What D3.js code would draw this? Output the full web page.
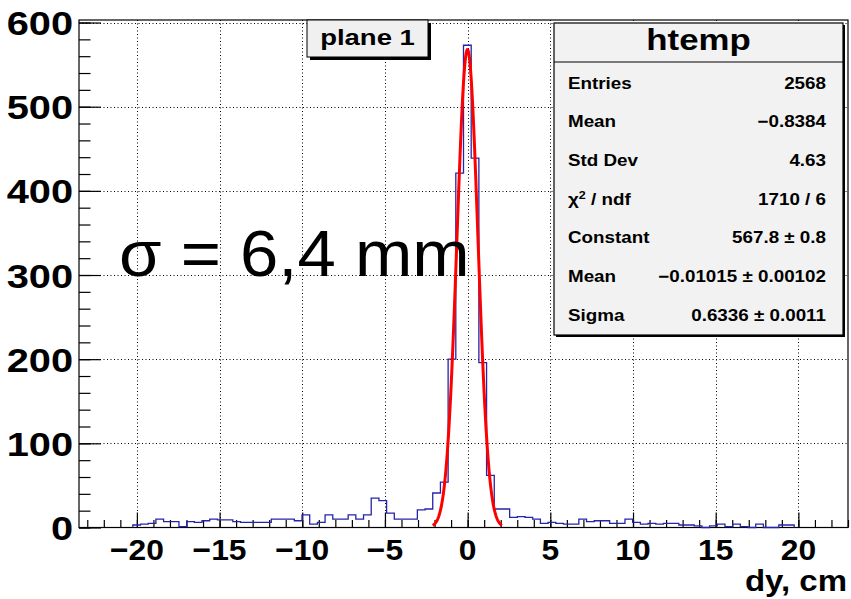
<!DOCTYPE html>
<html>
<head>
<meta charset="utf-8">
<script src="https://cdn.jsdelivr.net/npm/d3@7"></script>
<style>
  html, body { margin: 0; padding: 0; background: #fff; }
  svg { display: block; }
  text { font-family: "Liberation Sans", Arial, Helvetica, sans-serif; }
</style>
</head>
<body>
<svg id="chart" width="851" height="599"></svg>
<script>
// dy histogram, 100 bins from -23.5 to 23.0
const binLow = -23.5;
const binHigh = 23.0;
const binCounts = [
  0, 0, 0, 0, 0, 0, 0, 3, 4, 5,
  10, 7, 7, 1, 7, 6, 8, 10, 9, 9,
  7, 6, 6, 6, 6, 10, 10, 10, 8, 15,
  4, 6, 15, 10, 10, 15, 10, 15, 35, 32,
  17, 10, 10, 10, 21, 22, 41, 54, 200, 421,
  573, 439, 196, 62, 22, 22, 12, 13, 12, 10,
  5, 6, 5, 4, 4, 10, 7, 8, 8, 5,
  5, 10, 6, 4, 5, 4, 5, 5, 3, 3,
  2, 0, 2, 4, 1, 4, 1, 0, 4, 0,
  0, 3, 3, 0, 0, 0, 0, 0, 0, 0
];

// Gaussian fit parameters and fit range
const fitConstant = 567.8;
const fitMean = -0.01015;
const fitSigma = 0.6336;
const fitRange = [-2.11, 2.075];

const xTickValues = [-20, -15, -10, -5, 0, 5, 10, 15, 20];
const yTickValues = [0, 100, 200, 300, 400, 500, 600];
const yMax = 603;

const statsTitle = "htemp";
const statsLabels = ["Entries", "Mean", "Std Dev", "χ2 / ndf", "Constant", "Mean", "Sigma"];
const statsValues = ["2568", "\u22120.8384", "4.63", "1710 / 6", "567.8 \u00b1 0.8", "\u22120.01015 \u00b1 0.00102", "0.6336 \u00b1 0.0011"];

const svg = d3.select("#chart");
const frame = { left: 79, right: 848, top: 20, bottom: 527.5 };

const x = d3.scaleLinear().domain([binLow, binHigh]).range([frame.left, frame.right]);
const y = d3.scaleLinear().domain([0, yMax]).range([frame.bottom, frame.top]);

const fmtTick = v => (v < 0 ? "\u2212" + Math.abs(v) : String(v));

// dotted grid at major ticks
const grid = svg.append("g").attr("stroke", "#000").attr("stroke-width", 1)
  .attr("stroke-dasharray", "1,2.5");
xTickValues.forEach(v => {
  grid.append("line").attr("x1", Math.round(x(v)) + 0.5).attr("x2", Math.round(x(v)) + 0.5)
    .attr("y1", frame.top).attr("y2", frame.bottom);
});
yTickValues.filter(v => v > 0).forEach(v => {
  grid.append("line").attr("y1", Math.round(y(v)) + 0.5).attr("y2", Math.round(y(v)) + 0.5)
    .attr("x1", frame.left).attr("x2", frame.right);
});

// frame
svg.append("rect")
  .attr("x", frame.left).attr("y", frame.top)
  .attr("width", frame.right - frame.left).attr("height", frame.bottom - frame.top)
  .attr("fill", "none").attr("stroke", "#000").attr("stroke-width", 1.2);

// x axis: major every 5, minor every 1
const xAxis = d3.axisBottom(x).tickValues(xTickValues).tickSize(-15).tickFormat("");
const xMinor = d3.axisBottom(x).tickValues(d3.range(-23, 24, 1)).tickSize(-7.5).tickFormat("");
[xAxis, xMinor].forEach(ax => {
  const g = svg.append("g").attr("transform", `translate(0,${frame.bottom})`).call(ax);
  g.select(".domain").remove();
  g.selectAll("line").attr("stroke", "#000").attr("stroke-width", 1.2);
});

// y axis: major every 100, minor every 20
const yAxis = d3.axisLeft(y).tickValues(yTickValues).tickSize(-22).tickFormat("");
const yMinor = d3.axisLeft(y).tickValues(d3.range(0, 601, 20)).tickSize(-11.5).tickFormat("");
[yAxis, yMinor].forEach(ax => {
  const g = svg.append("g").attr("transform", `translate(${frame.left},0)`).call(ax);
  g.select(".domain").remove();
  g.selectAll("line").attr("stroke", "#000").attr("stroke-width", 1.2);
});

// tick labels
const xLab = svg.append("g").attr("font-weight", "bold").attr("font-size", 30).attr("text-anchor", "middle");
xTickValues.forEach(v => {
  xLab.append("text")
    .attr("transform", `translate(${x(v)},560) scale(1.06,1)`)
    .text(fmtTick(v));
});
const yLab = svg.append("g").attr("font-weight", "bold").attr("font-size", 34).attr("text-anchor", "end");
yTickValues.forEach(v => {
  yLab.append("text")
    .attr("transform", `translate(73,${y(v) + 12.5}) scale(1.17,1)`)
    .text(fmtTick(v));
});

// x axis title
svg.append("text")
  .attr("transform", `translate(847,591) scale(1.1,1)`)
  .attr("text-anchor", "end").attr("font-weight", "bold").attr("font-size", 30)
  .text("dy, cm");

// histogram outline
let first = binCounts.findIndex(c => c > 0);
let last = binCounts.length - 1 - [...binCounts].reverse().findIndex(c => c > 0);
const binW = (binHigh - binLow) / binCounts.length;
const pts = [];
for (let i = first; i <= last; i++) {
  const x0 = binLow + i * binW, x1 = x0 + binW;
  if (i === first) pts.push([x0, 0]);
  pts.push([x0, binCounts[i]]);
  pts.push([x1, binCounts[i]]);
  if (i === last) pts.push([x1, 0]);
}
svg.append("path")
  .attr("d", d3.line().x(d => x(d[0])).y(d => y(d[1]))(pts))
  .attr("fill", "none").attr("stroke", "#2424aa").attr("stroke-width", 1.3);

// Gaussian fit curve
const gauss = t => fitConstant * Math.exp(-0.5 * Math.pow((t - fitMean) / fitSigma, 2));
const fitPts = d3.range(0, 201).map(k => {
  const t = fitRange[0] + (fitRange[1] - fitRange[0]) * k / 200;
  return [t, gauss(t)];
});
svg.append("path")
  .attr("d", d3.line().x(d => x(d[0])).y(d => y(d[1]))(fitPts))
  .attr("fill", "none").attr("stroke", "#ff0000").attr("stroke-width", 3);

// title box
const tb = { x: 307, y: 20, w: 121, h: 37 };
svg.append("rect").attr("x", tb.x + 3).attr("y", tb.y + 3).attr("width", tb.w).attr("height", tb.h).attr("fill", "#000");
svg.append("rect").attr("x", tb.x).attr("y", tb.y).attr("width", tb.w).attr("height", tb.h)
  .attr("fill", "#f0f0f0").attr("stroke", "#000").attr("stroke-width", 1);
svg.append("text")
  .attr("transform", `translate(${tb.x + tb.w / 2},${tb.y + 25}) scale(1.25,1)`)
  .attr("text-anchor", "middle").attr("font-weight", "bold").attr("font-size", 22)
  .text("plane 1");

// statistics box
const sb = { x: 554, y: 23, w: 289, h: 312, head: 39 };
svg.append("rect").attr("x", sb.x + 2).attr("y", sb.y + 2).attr("width", sb.w).attr("height", sb.h).attr("fill", "#000");
svg.append("rect").attr("x", sb.x).attr("y", sb.y).attr("width", sb.w).attr("height", sb.h)
  .attr("fill", "#f2f2f2").attr("stroke", "#000").attr("stroke-width", 1.2);
svg.append("line").attr("x1", sb.x).attr("x2", sb.x + sb.w)
  .attr("y1", sb.y + sb.head).attr("y2", sb.y + sb.head).attr("stroke", "#000").attr("stroke-width", 1.2);
svg.append("text")
  .attr("transform", `translate(${sb.x + sb.w / 2},${sb.y + 27}) scale(1.2,1)`)
  .attr("text-anchor", "middle").attr("font-weight", "bold").attr("font-size", 29)
  .text(statsTitle);
const rowY = d3.scaleLinear().domain([0, statsLabels.length - 1]).range([sb.y + 65.5, sb.y + 297.5]);
statsLabels.forEach((lab, i) => {
  const t = svg.append("text")
    .attr("transform", `translate(568,${rowY(i)}) scale(1.14,1)`)
    .attr("font-weight", "bold").attr("font-size", 16.5);
  if (lab.startsWith("χ2")) {
    t.append("tspan").text("χ");
    t.append("tspan").attr("dy", -6).attr("font-size", 11).text("2");
    t.append("tspan").attr("dy", 6).text(" / ndf");
  } else {
    t.text(lab);
  }
  svg.append("text")
    .attr("transform", `translate(826,${rowY(i)}) scale(1.14,1)`)
    .attr("text-anchor", "end").attr("font-weight", "bold").attr("font-size", 16.5)
    .text(statsValues[i]);
});

// resolution annotation
svg.append("text")
  .attr("transform", `translate(119,276) scale(1.06,1)`)
  .attr("font-size", 65)
  .text("σ = 6,4 mm");
</script>
</body>
</html>
